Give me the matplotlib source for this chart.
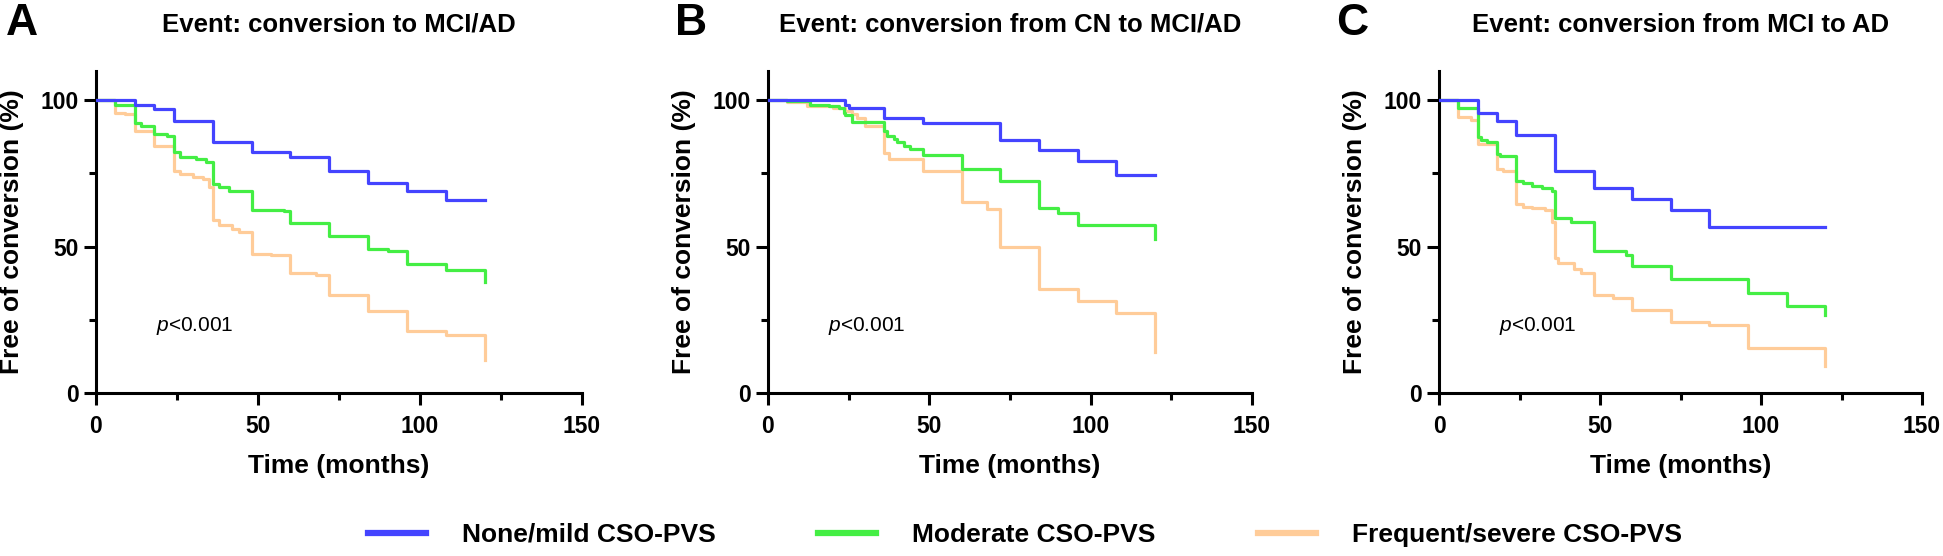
import matplotlib
matplotlib.use('Agg')
import matplotlib.pyplot as plt
from matplotlib.lines import Line2D

plt.rcParams['font.family'] = ['Liberation Sans', 'DejaVu Sans']
plt.rcParams['mathtext.fontset'] = 'custom'
plt.rcParams['mathtext.it'] = 'Liberation Sans:italic'
plt.rcParams['mathtext.rm'] = 'Liberation Sans'

# Kaplan-Meier curves (months, % free of conversion)
a_mild_t = [0, 12, 18, 24, 36, 48, 60, 72, 84, 96, 108, 120]
a_mild_v = [100, 98.2, 96.8, 92.9, 85.7, 82.1, 80.7, 75.6, 71.7, 69.1, 65.8, 65.8]
a_mod_t = [0, 6, 12, 14, 18, 22, 24, 26, 31, 34, 36, 38, 41, 48, 58, 60, 72, 84, 90, 96, 108, 120]
a_mod_v = [100, 98.4, 92.3, 91.2, 88.3, 87.6, 82.1, 80.6, 79.8, 78.7, 71.3, 70.2, 69.0, 62.3, 62.0,
           58.1, 53.6, 49.3, 48.5, 43.9, 41.9, 37.9]
a_sev_t = [0, 6, 9, 12, 18, 24, 26, 30, 33, 35, 36, 38, 42, 44, 48, 54, 60, 68, 72, 84, 96, 108, 120]
a_sev_v = [100, 95.7, 95.1, 89.5, 84.4, 75.9, 74.7, 73.6, 73.0, 70.2, 58.9, 57.2, 56.1, 54.9, 47.6,
           47.0, 41.1, 40.4, 33.4, 28.0, 21.2, 19.8, 11.3]

b_mild_t = [0, 24, 25, 36, 48, 72, 84, 96, 108, 120]
b_mild_v = [100, 98.2, 97.4, 94.0, 92.0, 86.3, 83.0, 79.2, 74.4, 74.4]
b_mod_t = [0, 6, 13, 19, 22, 23.5, 24, 26, 36, 37, 39, 40, 42, 44, 48, 60, 72, 84, 90, 96, 120]
b_mod_v = [100, 99.5, 98.4, 97.9, 97.4, 95.7, 94.8, 92.5, 89.4, 87.7, 86.6, 85.5, 84.3, 83.4, 81.1,
           76.6, 72.4, 63.0, 61.4, 57.4, 52.7]
b_sev_t = [0, 6, 12, 20, 24, 26, 27.5, 30, 36, 37.5, 48, 60, 68, 72, 84, 96, 108, 120]
b_sev_v = [100, 99.3, 97.9, 97.4, 96.2, 95.1, 94.0, 91.1, 82.0, 80.0, 75.6, 65.3, 62.7, 49.7, 35.5,
           31.3, 27.3, 13.9]

c_mild_t = [0, 12, 18, 24, 36, 48, 60, 72, 84, 120]
c_mild_v = [100, 95.7, 93.0, 88.1, 75.9, 69.9, 66.1, 62.3, 56.8, 56.8]
c_mod_t = [0, 6, 12, 13, 15, 18, 19, 24, 26, 29, 32, 35, 36, 41, 48, 58, 60, 72, 96, 108, 120]
c_mod_v = [100, 97.2, 87.5, 86.4, 85.8, 81.6, 80.9, 72.2, 71.6, 70.7, 69.9, 68.8, 59.7, 58.2, 48.6,
           47.2, 43.2, 38.9, 34.1, 29.8, 26.7]
c_sev_t = [0, 6, 10, 12, 18, 20, 24, 26, 29, 33, 35, 36, 37, 42, 44, 48, 54, 60, 72, 84, 96, 120]
c_sev_v = [100, 94.3, 93.2, 85.0, 76.4, 75.6, 64.5, 63.6, 63.1, 62.3, 58.5, 46.0, 44.3, 42.3, 40.9,
           33.5, 32.4, 28.2, 24.4, 23.3, 15.3, 9.3]

groups = ['None/mild CSO-PVS', 'Moderate CSO-PVS', 'Frequent/severe CSO-PVS']
colors = ['#4444FF', '#44EE44', '#FFCC99']
letters = ['A', 'B', 'C']
titles = ['Event: conversion to MCI/AD',
          'Event: conversion from CN to MCI/AD',
          'Event: conversion from MCI to AD']
panels = [
    [(a_mild_t, a_mild_v), (a_mod_t, a_mod_v), (a_sev_t, a_sev_v)],
    [(b_mild_t, b_mild_v), (b_mod_t, b_mod_v), (b_sev_t, b_sev_v)],
    [(c_mild_t, c_mild_v), (c_mod_t, c_mod_v), (c_sev_t, c_sev_v)],
]

W, H = 1943, 556
fig = plt.figure(figsize=(W / 100, H / 100), dpi=100)

ax_left = [96, 768, 1439]
ax_width = [486, 484, 483]
letter_x = [6, 675, 1336]
ax_bottom = 393
ax_top = 70.7

for i in range(3):
    ax = fig.add_axes([ax_left[i] / W, 1 - ax_bottom / H,
                       ax_width[i] / W, (ax_bottom - ax_top) / H])
    # draw severe first so blue sits on top
    for (t, v), c, z in zip(panels[i][::-1], colors[::-1], [2, 3, 4]):
        ax.step(t, v, where='post', color=c, lw=2.3, zorder=z)

    ax.set_xlim(0, 150)
    ax.set_ylim(0, 110)
    ax.set_xticks([0, 50, 100, 150])
    ax.set_xticks([25, 75, 125], minor=True)
    ax.set_yticks([0, 50, 100])
    ax.set_yticks([25, 75], minor=True)
    for s in ['top', 'right']:
        ax.spines[s].set_visible(False)
    for s in ['left', 'bottom']:
        ax.spines[s].set_linewidth(2.2)
    ax.tick_params(which='major', length=8.5, width=2.2, labelsize=16.5)
    ax.tick_params(which='minor', length=5, width=2.2)
    ax.tick_params(axis='x', which='major', pad=7)
    ax.tick_params(axis='y', which='major', pad=4)
    for lab in ax.get_xticklabels() + ax.get_yticklabels():
        lab.set_fontweight('bold')

    ax.set_xlabel('Time (months)', fontsize=19, fontweight='bold')
    ax.xaxis.set_label_coords(0.5, -0.19)
    ax.set_ylabel('Free of conversion (%)', fontsize=19, fontweight='bold')
    ax.yaxis.set_label_coords(-72 / ax_width[i], 0.5)
    ax.set_title(titles[i], fontsize=18.5, fontweight='bold', pad=28)

    ax.text(18.5, 23, r'$\mathit{p}$<0.001', fontsize=15, va='center', ha='left')

    fig.text(letter_x[i] / W, 1 - 35 / H, letters[i], fontsize=32,
             fontweight='bold', va='baseline', ha='left')

handles = [Line2D([], [], color=c, lw=4.5) for c in colors]
fig.legend(handles, groups, loc='center', bbox_to_anchor=(1025 / W, 1 - 535 / H),
           ncol=3, frameon=False, handlelength=2.2, handletextpad=1.35,
           columnspacing=3.9, prop={'size': 19, 'weight': 'bold'})

fig.savefig('out.png', dpi=100)
